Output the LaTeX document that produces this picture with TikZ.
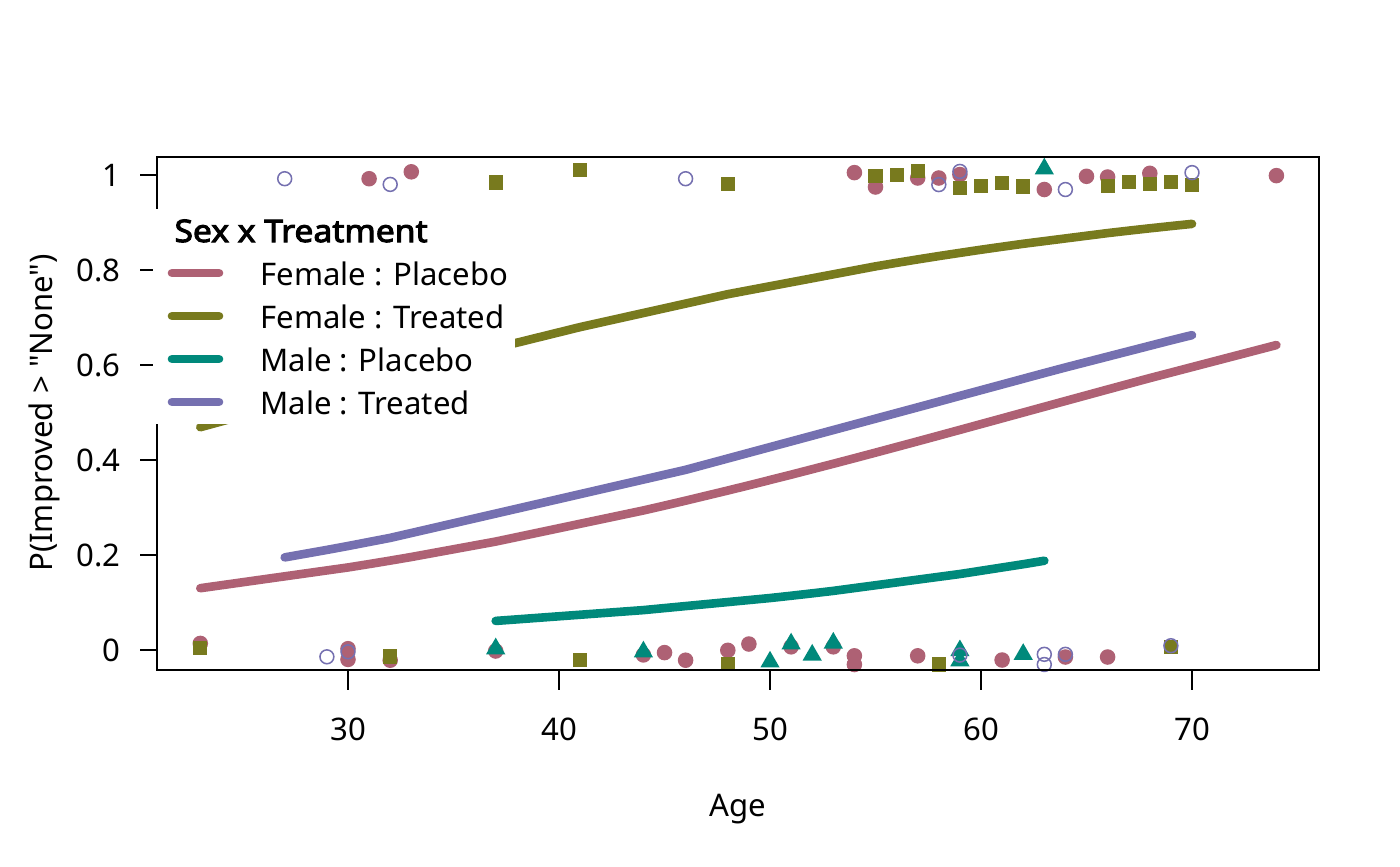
\documentclass[tikz,border=0pt]{standalone}
\usepackage{fontspec}
\setmainfont{Noto Sans}[Ligatures=TeXOff]
\newfontfamily\titlefont{Noto Sans}[Ligatures=TeXOff,FakeBold=3.2,FakeStretch=1.08]
\usetikzlibrary{calc}
\definecolor{cFP}{RGB}{174,97,116}
\definecolor{cFT}{RGB}{120,122,30}
\definecolor{cMP}{RGB}{0,137,123}
\definecolor{cMT}{RGB}{117,112,176}
\tikzset{
  fp/.pic={\fill[cFP] (0,0) circle[radius=2.8pt];},
  ft/.pic={\fill[cFT] (-2.55pt,-2.55pt) rectangle (2.55pt,2.55pt);},
  mp/.pic={\fill[cMP] (90:4pt) -- (210:4pt) -- (330:4pt) -- cycle;},
  mt/.pic={\draw[cMT,line width=0.55pt] (0,0) circle[radius=2.5pt];},
  curve/.style={line width=3.1pt,line cap=round,line join=round},
  frame/.style={line width=0.45pt,black},
  lab/.style={inner sep=0pt,font=\fontsize{11.2}{13}\selectfont},
  labb/.style={inner sep=0pt,font=\fontsize{11.2}{13}\selectfont\titlefont},
}
\newcommand\pp[3]{\pic at ({348+(#2-30)*21.1},#3) {#1};}
\newcommand\cv[3]{\draw[curve,#1] plot[samples at={#2}] ({348+(\x-30)*21.1},{650-475/(1+exp(-(#3+0.0487*\x)))});}
\begin{document}
\begin{tikzpicture}[x=0.36pt,y=-0.36pt]
\useasboundingbox[fill=white] (0,0) rectangle (1400,866);
% points: Female Placebo
\foreach \a/\b in {31/178.7,33/171.8,54/172.6,55/187,57/178,58/178,59/174.5,63/189.5,65/176.3,66/177,68/173.3,74/175.6,
  23/643.4,30/648.7,30/659.4,32/660.2,37/651,44/654.9,45/652.6,46/660.2,48/650.3,49/644,51/646.8,53/646.8,54/655.8,54/664.5,57/655.8,61/660,64/657,66/657}
  {\pp{fp}{\a}{\b}}
% Female Treated
\foreach \a/\b in {37/182.5,41/170,48/183.7,55/176,56/175,57/170.7,59/187.6,60/185.7,61/182.7,62/186.5,66/185.7,67/182,68/183.9,69/182,70/184.6,
  23/648,32/656.4,41/660.2,48/664,58/664.5,69/646.8}
  {\pp{ft}{\a}{\b}}
% Male Placebo
\foreach \a/\b in {63/168.8,37/648.7,44/651.8,50/661.9,51/643.8,52/655,53/643,59/650.6,59/660.7,62/654.3}
  {\pp{mp}{\a}{\b}}
% Male Treated
\foreach \a/\b in {27/178.7,32/184.4,46/178.7,58/184.6,59/171.4,64/189.5,70/172.6,
  29/656.8,30/651.8,59/655.1,63/654.3,63/664.5,64/654.3,69/645.7}
  {\pp{mt}{\a}{\b}}
% fitted curves
\cv{cFP}{23,30,31,32,33,37,44,45,46,48,49,51,53,54,55,57,58,59,61,63,64,65,66,68,74}{-3.02}
\cv{cFT}{23,32,37,41,48,55,56,57,58,59,60,61,62,66,67,68,69,70}{-1.244}
\cv{cMP}{37,44,50,51,52,53,59,62,63}{-4.532}
\cv{cMT}{27,29,30,32,46,58,59,63,64,69,70}{-2.733}
% frame
\draw[frame] (157,157) rectangle (1319,670);
% y axis
\foreach \v/\t in {0/0,1/0.2,2/0.4,3/0.6,4/0.8,5/1}{
  \draw[frame] (140,{650-95*\v}) -- (157,{650-95*\v});
  \node[lab,anchor=base east] at (121,{661-95*\v}) {\t};
}
% x axis
\foreach \v in {30,40,50,60,70}{
  \draw[frame] ({348+(\v-30)*21.1},670) -- ({348+(\v-30)*21.1},690);
  \node[lab,anchor=base] at ({348+(\v-30)*21.1},740) {\v};
}
\node[lab,anchor=base] (xl) at (738,816) {Age};
\node[lab,rotate=90] (yl) at (44,413) {P(Improved > "None")};
% legend
\fill[white] (153,209) rectangle (515,424);
\node[labb,anchor=base west] (lt) at (174,242) {Sex x Treatment};
\foreach \c/\t [count=\i from 0] in {cFP/Female : Placebo,cFT/Female : Treated,cMP/Male : Placebo,cMT/Male : Treated}{
  \draw[curve,\c] (172,{273+43*\i}) -- (219,{273+43*\i});
  \node[lab,anchor=base west] at (260,{285+43*\i}) {\t};
}
\end{tikzpicture}
\end{document}
